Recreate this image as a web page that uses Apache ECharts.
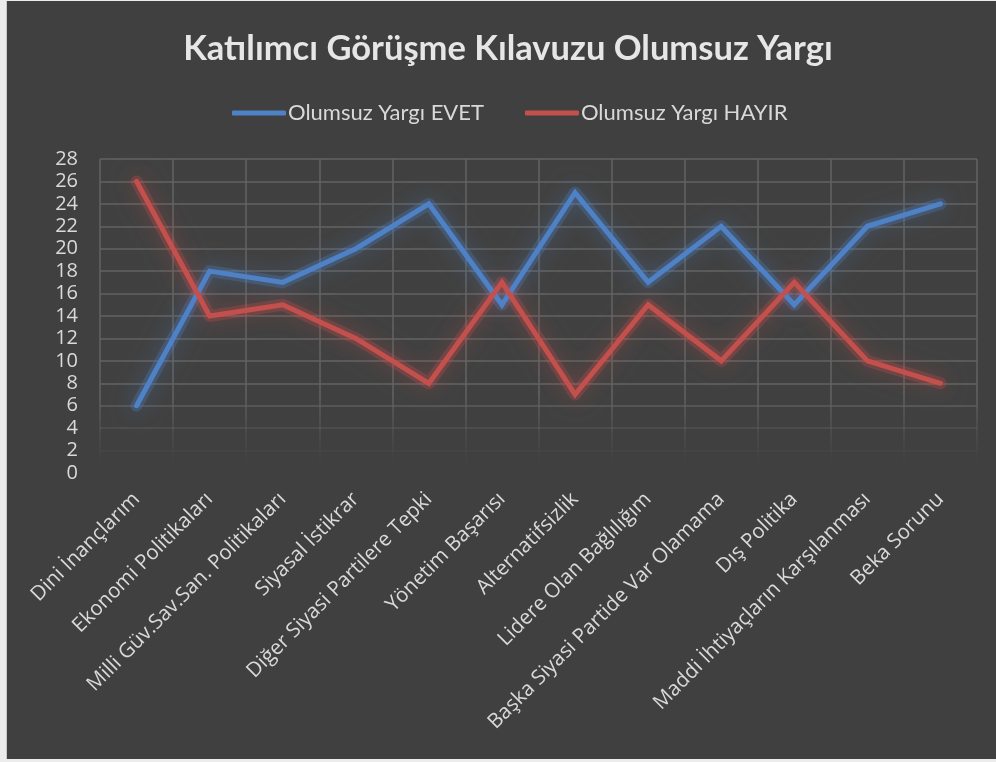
<!DOCTYPE html>
<html>
<head>
<meta charset="utf-8">
<script src="https://cdn.jsdelivr.net/npm/echarts@6/dist/echarts.min.js"></script>
<style>
  html, body { margin: 0; padding: 0; background: #ececec; width: 996px; height: 762px; overflow: hidden; }
  #chart { position: absolute; left: 6px; top: 1px; width: 990px; height: 758px; background: #404040; border-left: 1px solid #c8c8c8; }
</style>
</head>
<body>
<div id="chart"></div>
<script>
// Kategoriler ve seri değerleri
const categories = [
  'Dini İnançlarım',
  'Ekonomi Politikaları',
  'Milli Güv.Sav.San. Politikaları',
  'Siyasal İstikrar',
  'Diğer Siyasi Partilere Tepki',
  'Yönetim Başarısı',
  'Alternatifsizlik',
  'Lidere Olan Bağlılığım',
  'Başka Siyasi Partide Var Olamama',
  'Dış Politika',
  'Maddi İhtiyaçların Karşılanması',
  'Beka Sorunu'
];
const evetValues  = [6, 18, 17, 20, 24, 15, 25, 17, 22, 15, 22, 24];
const hayirValues = [26, 14, 15, 12, 8, 17, 7, 15, 10, 17, 10, 8];
const seriesNames = ['Olumsuz Yargı EVET', 'Olumsuz Yargı HAYIR'];
const yMin = 0, yMax = 28, yStep = 2;

const labelFont = 'Open Sans';
const headFont = 'Lato';

const chart = echarts.init(document.getElementById('chart'), null, { renderer: 'canvas' });

// Izgara çizgileri aşağıya doğru kaybolur
const gridFade = {
  type: 'linear', x: 0, y: 0, x2: 0, y2: 758, global: true,
  colorStops: [
    { offset: 0, color: 'rgba(98,98,98,1)' },
    { offset: 0.52, color: 'rgba(98,98,98,1)' },
    { offset: 0.565, color: 'rgba(98,98,98,0.45)' },
    { offset: 0.60, color: 'rgba(98,98,98,0.08)' },
    { offset: 0.62, color: 'rgba(98,98,98,0)' },
    { offset: 1, color: 'rgba(98,98,98,0)' }
  ]
};

// Çizginin altındaki yumuşak parlama katmanı
function glowSeries(data, glow, core) {
  return {
    name: 'glow',
    type: 'line',
    data: data,
    symbol: 'none',
    silent: true,
    tooltip: { show: false },
    lineStyle: {
      color: core,
      width: 12,
      cap: 'round',
      join: 'round',
      shadowColor: glow,
      shadowBlur: 20
    },
    z: 2
  };
}

function lineSeries(name, data, color) {
  return {
    name: name,
    type: 'line',
    data: data,
    symbol: 'none',
    lineStyle: {
      color: color,
      width: 5,
      cap: 'round',
      join: 'miter'
    },
    itemStyle: { color: color },
    z: 3
  };
}

chart.setOption({
  animation: false,
  backgroundColor: '#404040',
  title: {
    text: 'Katılımcı Görüşme Kılavuzu Olumsuz Yargı',
    left: 496,
    textAlign: 'center',
    top: 25,
    textStyle: {
      color: '#e6e6e6',
      fontFamily: headFont,
      fontWeight: 'bold',
      fontSize: 34.5
    }
  },
  legend: {
    top: 96,
    left: 220,
    icon: 'roundRect',
    itemWidth: 54,
    itemHeight: 5,
    itemGap: 41,
    textStyle: { color: '#d9d9d9', fontFamily: headFont, fontSize: 22, padding: [0, 0, 0, -3] },
    data: seriesNames
  },
  grid: { left: 93, right: 20, top: 158, bottom: 286 },
  xAxis: {
    type: 'category',
    data: categories,
    boundaryGap: true,
    axisLine: { show: false },
    axisTick: { show: false },
    splitLine: { show: true, lineStyle: { color: gridFade, width: 1.5 } },
    axisLabel: {
      interval: 0,
      rotate: 45,
      margin: 23,
      color: '#d9d9d9',
      fontFamily: labelFont,
      fontSize: 20.5
    }
  },
  yAxis: {
    type: 'value',
    min: yMin,
    max: yMax,
    interval: yStep,
    axisLine: { show: false },
    axisTick: { show: false },
    splitLine: { show: true, lineStyle: { color: gridFade, width: 1.5 } },
    axisLabel: {
      margin: 22,
      color: '#d9d9d9',
      fontFamily: labelFont,
      fontSize: 20
    }
  },
  series: [
    glowSeries(evetValues, 'rgba(79,129,198,1)', 'rgba(79,129,198,0.28)'),
    glowSeries(hayirValues, 'rgba(196,80,77,1)', 'rgba(196,80,77,0.28)'),
    lineSeries(seriesNames[0], evetValues, '#4f81c6'),
    lineSeries(seriesNames[1], hayirValues, '#c4504d')
  ]
});
</script>
</body>
</html>
